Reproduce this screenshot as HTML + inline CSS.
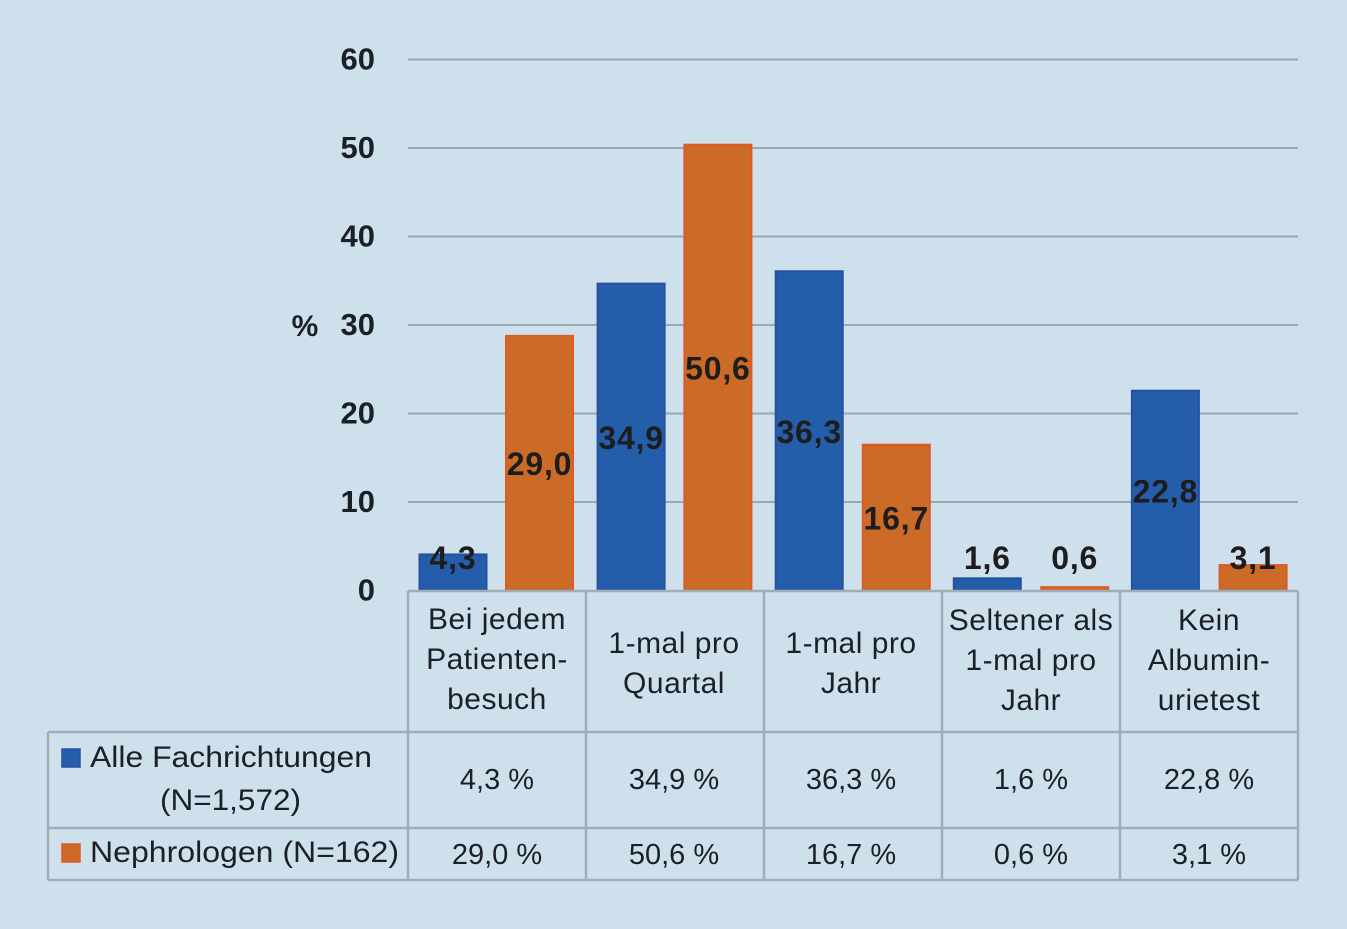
<!DOCTYPE html>
<html lang="de">
<head>
<meta charset="utf-8">
<title>Albuminurietest Häufigkeit</title>
<style>
html,body{margin:0;padding:0;background:#cfe0ed;}
svg{display:block;font-family:"Liberation Sans",sans-serif;}
</style>
</head>
<body>
<svg id="chart" width="1347" height="929" viewBox="0 0 1347 929" xmlns="http://www.w3.org/2000/svg"></svg>
<script>
const categories = [
  ["Bei jedem", "Patienten-", "besuch"],
  ["1-mal pro", "Quartal"],
  ["1-mal pro", "Jahr"],
  ["Seltener als", "1-mal pro", "Jahr"],
  ["Kein", "Albumin-", "urietest"]
];
const seriesAll = [4.3, 34.9, 36.3, 1.6, 22.8];
const seriesNeph = [29.0, 50.6, 16.7, 0.6, 3.1];
const yTicks = [0, 10, 20, 30, 40, 50, 60];

const svg = document.getElementById('chart');
const NS = 'http://www.w3.org/2000/svg';
function mk(tag, attrs, text) {
  const el = document.createElementNS(NS, tag);
  for (const k in attrs) el.setAttribute(k, attrs[k]);
  if (text !== undefined) el.textContent = text;
  svg.appendChild(el);
  return el;
}
const yScale = v => 590.5 - v * 8.85;
const colLeft = i => 408 + i * 178;
const xAll = i => 453 + i * 178.1;
const xNeph = i => 539.5 + i * 178.4;
const fmt = v => v.toFixed(1).replace('.', ',');
const gridColor = '#9aa8b3';
const textColor = '#1a2026';

const bg = mk('rect', {x:0, y:0, width:1347, height:929, fill:'#cfe0ed'});



yTicks.forEach(t => {
  if (t > 0) {
    const g = mk('line', {x1:408, x2:1298, y1:yScale(t), y2:yScale(t), stroke:gridColor, 'stroke-width':2});
    
    
  }
  const l = mk('text', {x:375, y:yScale(t) + 10, 'text-anchor':'end', 'font-size':31, 'font-weight':'bold', fill:textColor}, String(t));
  
  
});

const yTitle = mk('text', {x:305, y:336, 'text-anchor':'middle', 'font-size':30, 'font-weight':'bold', fill:textColor}, '%');



function drawBar(v, x, fill, stroke, name) {
  const top = yScale(v) + 2;
  const r = mk('rect', {x:x - 33.5, y:top, width:67, height:590.5 - top, fill:fill, stroke:stroke, 'stroke-width':2});
  
  
}
function drawValue(v, x, name) {
  const mid = (yScale(v) + 590.5) / 2;
  const cy = Math.min(mid + 2, 558);
  const t = mk('text', {x:x, y:cy + 11, 'text-anchor':'middle', 'font-size':32, 'font-weight':'bold', 'letter-spacing':0.8, fill:'#1d1d1d'}, fmt(v));
  
  
}
categories.forEach((c, i) => {
  drawBar(seriesAll[i], xAll(i), '#245eab', '#2450a0', 'bar-alle-' + i);
  drawBar(seriesNeph[i], xNeph(i), '#cc6a28', '#dd5a26', 'bar-nephrologen-' + i);
});
categories.forEach((c, i) => {
  drawValue(seriesAll[i], xAll(i), 'value-label-alle-' + i);
  drawValue(seriesNeph[i], xNeph(i), 'value-label-nephrologen-' + i);
});

function hline(x1, x2, y, name) {
  const e = mk('line', {x1:x1, x2:x2, y1:y, y2:y, stroke:'#a0adb6', 'stroke-width':2.5});
  
  
}
function vline(x, y1, y2, name) {
  const e = mk('line', {x1:x, x2:x, y1:y1, y2:y2, stroke:'#a0adb6', 'stroke-width':2.5});
  
  
}
hline(408, 1298, 591, 'x-axis-line');
hline(48, 1298, 732, 'table-line-1');
hline(48, 1298, 828, 'table-line-2');
hline(48, 1298, 880, 'table-line-3');
vline(48, 732, 880, 'table-left-border');
for (let i = 0; i <= categories.length; i++) {
  vline(colLeft(i), 591, 880, 'table-column-line-' + i);
}

categories.forEach((lines, i) => {
  const cx = colLeft(i) + 89;
  const labelX = cx - (i === 2 ? 2 : (i === 1 ? 1 : 0));
  const start = lines.length === 3 ? (i === 0 ? 629 : 630) : 653;
  lines.forEach((s, j) => {
    const t = mk('text', {x:labelX, y:start + j * 40, 'text-anchor':'middle', 'font-size':30, 'letter-spacing':0.5, fill:textColor}, s);
    
    
  });
  const a = mk('text', {x:labelX, y:789, 'text-anchor':'middle', 'font-size':29, fill:textColor}, fmt(seriesAll[i]) + ' %');
  
  
  const b = mk('text', {x:labelX, y:864, 'text-anchor':'middle', 'font-size':29, fill:textColor}, fmt(seriesNeph[i]) + ' %');
  
  
});

const k1 = mk('rect', {x:62, y:749, width:18, height:18, fill:'#245eab', stroke:'#2450a0', 'stroke-width':1.5});


const k2 = mk('rect', {x:62, y:844, width:18, height:18, fill:'#cc6a28', stroke:'#dd5a26', 'stroke-width':1.5});


const l1 = mk('text', {x:90, y:767, 'font-size':30, fill:textColor, textLength:282, lengthAdjust:'spacingAndGlyphs'}, 'Alle Fachrichtungen');


const l2 = mk('text', {x:160, y:810, 'font-size':30, fill:textColor, textLength:141, lengthAdjust:'spacingAndGlyphs'}, '(N=1,572)');


const l3 = mk('text', {x:90, y:862, 'font-size':30, fill:textColor, textLength:309, lengthAdjust:'spacingAndGlyphs'}, 'Nephrologen (N=162)');


</script>
</body>
</html>
